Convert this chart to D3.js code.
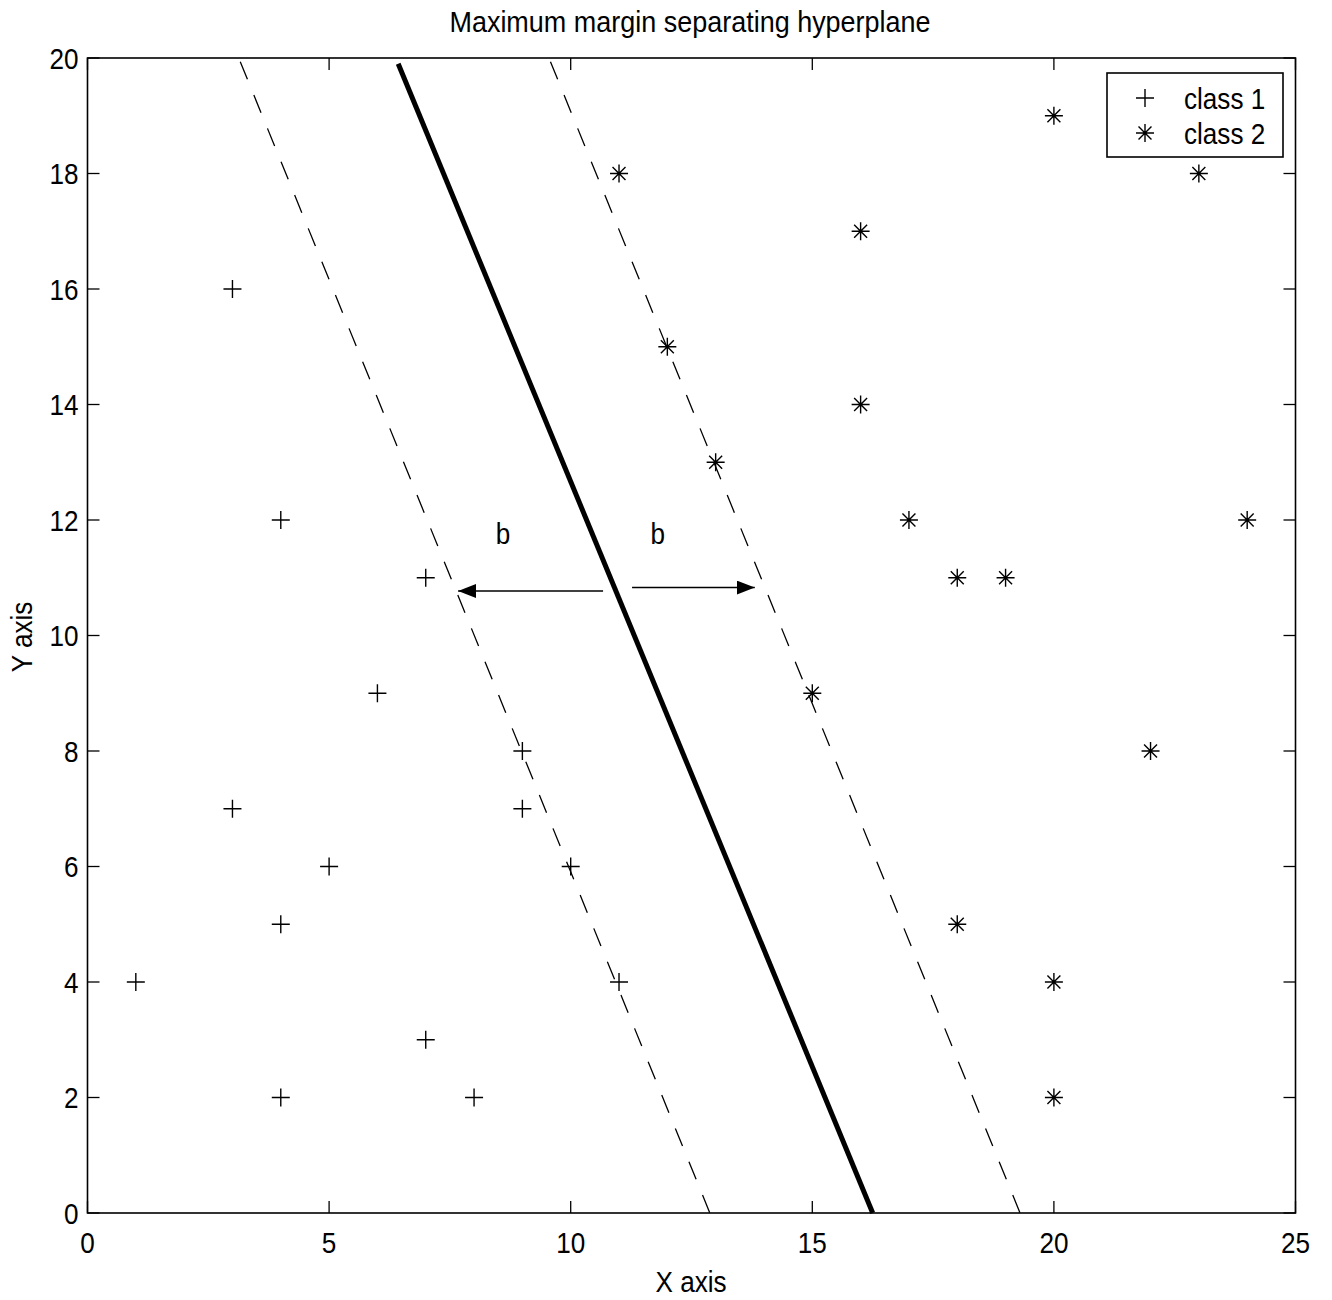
<!DOCTYPE html>
<html>
<head>
<meta charset="utf-8">
<script src="https://cdn.jsdelivr.net/npm/d3@7"></script>
<style>
  body { margin: 0; background: #fff; }
  text { font-family: "Liberation Sans", Arial, sans-serif; fill: #000; }
</style>
</head>
<body>
<svg id="chart" width="1332" height="1300"></svg>
<script>
// class 1 points (+)
const class1X = [1, 3, 3, 4, 4, 4, 5, 6, 7, 7, 8, 9, 9, 10, 11];
const class1Y = [4, 16, 7, 12, 5, 2, 6, 9, 11, 3, 2, 8, 7, 6, 4];
// class 2 points (*)
const class2X = [11, 12, 13, 15, 16, 16, 17, 18, 19, 18, 20, 20, 20, 22, 23, 24];
const class2Y = [18, 15, 13, 9, 17, 14, 12, 11, 11, 5, 19, 4, 2, 8, 18, 12];

// separating hyperplane and margins, [x, y] end points
const hyperplane = [[6.43, 19.9], [16.25, 0]];
const marginLeft = [[3.13, 20], [12.88, 0]];
const marginRight = [[9.55, 20], [19.3, 0]];

// margin arrows: from, to (tip)
const arrows = [
  [[10.67, 10.77], [7.67, 10.77]],
  [[11.27, 10.83], [13.81, 10.83]]
];
const bLabels = [[8.6, 11.6], [11.8, 11.6]];

const xTicks = [0, 5, 10, 15, 20, 25];
const yTicks = [0, 2, 4, 6, 8, 10, 12, 14, 16, 18, 20];
const legendItems = ['class 1', 'class 2'];

const margin = { top: 58, left: 87.5, right: 1332 - 1295.5, bottom: 1300 - 1213 },
  width = 1332 - margin.left - margin.right,
  height = 1300 - margin.top - margin.bottom;

const svg = d3.select('#chart');
const g = svg.append('g').attr('transform', `translate(${margin.left},${margin.top})`);

const x = d3.scaleLinear().domain([0, 25]).range([0, width]);
const y = d3.scaleLinear().domain([0, 20]).range([height, 0]);

const fontSize = 30;
const squeeze = 0.87; // matlab helvetica is narrower than liberation sans
const tickLen = 12;

const place = (px, py, rot) =>
  `translate(${px},${py})${rot ? ` rotate(${rot})` : ''} scale(${squeeze},1)`;

// frame
g.append('rect')
  .attr('width', width)
  .attr('height', height)
  .attr('fill', 'none')
  .attr('stroke', '#000')
  .attr('stroke-width', 1.6);

// ticks: all four sides, pointing inward
const ticks = g.append('g').attr('stroke', '#000').attr('stroke-width', 1.3);
xTicks.forEach(t => {
  ticks.append('line').attr('x1', x(t)).attr('x2', x(t)).attr('y1', height).attr('y2', height - tickLen);
  ticks.append('line').attr('x1', x(t)).attr('x2', x(t)).attr('y1', 0).attr('y2', tickLen);
});
yTicks.forEach(t => {
  ticks.append('line').attr('y1', y(t)).attr('y2', y(t)).attr('x1', 0).attr('x2', tickLen);
  ticks.append('line').attr('y1', y(t)).attr('y2', y(t)).attr('x1', width).attr('x2', width - tickLen);
});

g.selectAll('.xlab')
  .data(xTicks)
  .join('text')
  .attr('transform', d => place(x(d), height + 40))
  .attr('text-anchor', 'middle')
  .style('font-size', fontSize + 'px')
  .text(d => d);

g.selectAll('.ylab')
  .data(yTicks)
  .join('text')
  .attr('transform', d => place(-9, y(d)))
  .attr('dy', '0.36em')
  .attr('text-anchor', 'end')
  .style('font-size', fontSize + 'px')
  .text(d => d);

// title + axis labels
svg.append('text')
  .attr('transform', 'translate(690,32) scale(0.93,1)')
  .attr('text-anchor', 'middle')
  .style('font-size', '29px')
  .text('Maximum margin separating hyperplane');

svg.append('text')
  .attr('transform', place(691, 1292))
  .attr('text-anchor', 'middle')
  .style('font-size', fontSize + 'px')
  .text('X axis');

svg.append('text')
  .attr('transform', place(32, 637, -90))
  .attr('text-anchor', 'middle')
  .style('font-size', fontSize + 'px')
  .text('Y axis');

// lines
const line = d3.line().x(d => x(d[0])).y(d => y(d[1]));

g.append('path')
  .attr('d', line(hyperplane))
  .attr('fill', 'none')
  .attr('stroke', '#000')
  .attr('stroke-width', 5);

[marginLeft, marginRight].forEach(m => {
  g.append('path')
    .attr('d', line(m))
    .attr('fill', 'none')
    .attr('stroke', '#000')
    .attr('stroke-width', 1.3)
    .attr('stroke-dasharray', '19,17')
    .attr('stroke-dashoffset', -4);
});

// arrows
svg.append('defs')
  .append('marker')
  .attr('id', 'head')
  .attr('viewBox', '0 0 18 14')
  .attr('refX', 18)
  .attr('refY', 7)
  .attr('markerWidth', 18)
  .attr('markerHeight', 14)
  .attr('markerUnits', 'userSpaceOnUse')
  .attr('orient', 'auto')
  .append('path')
  .attr('d', 'M0,0L18,7L0,14Z')
  .attr('fill', '#000');

arrows.forEach(a => {
  g.append('path')
    .attr('d', line(a))
    .attr('stroke', '#000')
    .attr('stroke-width', 1.6)
    .attr('marker-end', 'url(#head)');
});

g.selectAll('.b')
  .data(bLabels)
  .join('text')
  .attr('transform', d => place(x(d[0]), y(d[1]) + 1))
  .attr('text-anchor', 'middle')
  .style('font-size', fontSize + 'px')
  .text('b');

// markers
const plusPath = s => `M${-s},0H${s}M0,${-s}V${s}`;
const starPath = s => {
  const d = s * 0.72;
  return `M${-s},0H${s}M0,${-s}V${s}M${-d},${-d}L${d},${d}M${-d},${d}L${d},${-d}`;
};

const class1 = class1X.map((v, i) => [v, class1Y[i]]);
const class2 = class2X.map((v, i) => [v, class2Y[i]]);

g.selectAll('.c1')
  .data(class1)
  .join('path')
  .attr('transform', d => `translate(${x(d[0])},${y(d[1])})`)
  .attr('d', plusPath(9))
  .attr('stroke', '#000')
  .attr('stroke-width', 1.4)
  .attr('fill', 'none');

g.selectAll('.c2')
  .data(class2)
  .join('path')
  .attr('transform', d => `translate(${x(d[0])},${y(d[1])})`)
  .attr('d', starPath(9))
  .attr('stroke', '#000')
  .attr('stroke-width', 1.4)
  .attr('fill', 'none');

// legend
const legend = svg.append('g').attr('transform', 'translate(1107,73)');
legend.append('rect')
  .attr('width', 176)
  .attr('height', 84)
  .attr('fill', '#fff')
  .attr('stroke', '#000')
  .attr('stroke-width', 1.6);

legendItems.forEach((label, i) => {
  const ly = 25 + i * 35;
  legend.append('path')
    .attr('transform', `translate(38,${ly})`)
    .attr('d', i === 0 ? plusPath(9) : starPath(9))
    .attr('stroke', '#000')
    .attr('stroke-width', 1.4)
    .attr('fill', 'none');
  legend.append('text')
    .attr('transform', place(77, ly))
    .attr('dy', '0.36em')
    .style('font-size', fontSize + 'px')
    .text(label);
});
</script>
</body>
</html>
